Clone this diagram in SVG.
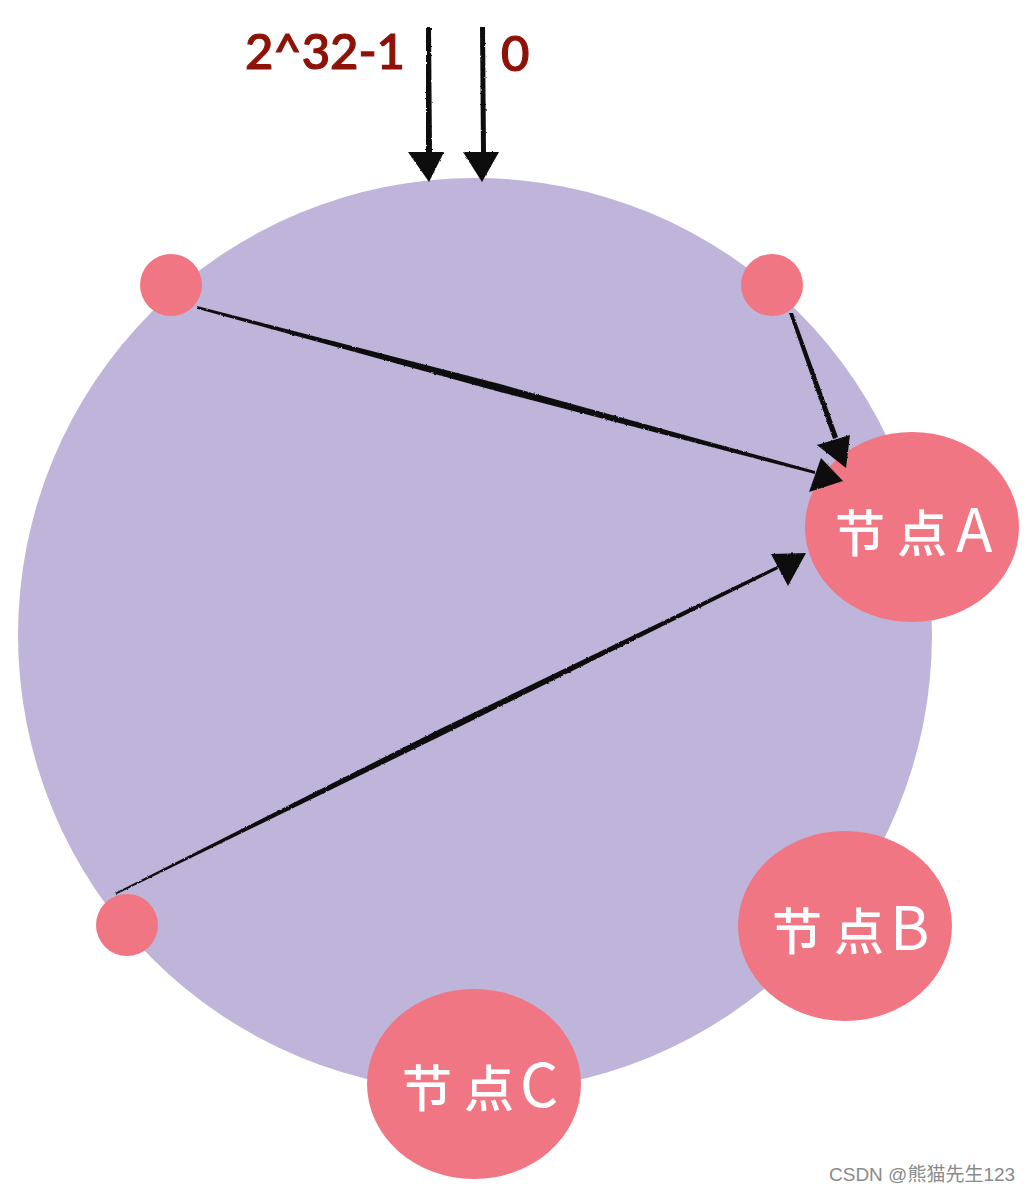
<svg xmlns="http://www.w3.org/2000/svg" width="1032" height="1196" viewBox="0 0 1032 1196">
<defs>
<filter id="rough" x="-5%" y="-5%" width="110%" height="110%" filterUnits="objectBoundingBox">
<feTurbulence type="fractalNoise" baseFrequency="0.35" numOctaves="2" seed="4"/>
<feDisplacementMap in="SourceGraphic" scale="2.200" xChannelSelector="R" yChannelSelector="G"/>
</filter>
</defs>
<style>
.ring{fill:#bfb5da}
.n{fill:#f07684}
.lbl{font-family:"Noto Sans CJK SC","Noto Sans",sans-serif;font-size:50px;font-weight:500;fill:#fff}
.big{font-size:60px;font-weight:400}
.top{font-family:"Lato","Open Sans",sans-serif;font-size:49px;font-weight:500;fill:#8e1208;stroke:#8e1208;stroke-width:1.200px}
.h{fill:#111}
</style>
<rect width="1032" height="1196" fill="#fff"/>
<circle id="ring" class="ring" cx="475" cy="635" r="457"/>
<g id="dot1"><circle class="n" cx="171" cy="285" r="31"/></g>
<g id="dot2"><circle class="n" cx="772" cy="285" r="31"/></g>
<g id="dot3"><circle class="n" cx="127" cy="925" r="31"/></g>
<g id="nodeA"><ellipse class="n" cx="912" cy="527" rx="107" ry="95"/><text class="lbl" y="552"><tspan x="835">节</tspan><tspan x="897">点</tspan><tspan class="big" x="956">A</tspan></text></g>
<g id="nodeB"><ellipse class="n" cx="845" cy="926" rx="107" ry="95"/><text class="lbl" y="950"><tspan x="772">节</tspan><tspan x="834">点</tspan><tspan class="big" x="890">B</tspan></text></g>
<g id="nodeC"><ellipse class="n" cx="474" cy="1084" rx="107" ry="95"/><text class="lbl" y="1107"><tspan x="402">节</tspan><tspan x="464">点</tspan><tspan class="big" x="520">C</tspan></text></g>
<g id="connectors" filter="url(#rough)">
<polygon class="h" points="426,27 431,27 432,152 426,152"/>
<polygon class="h" points="408,152 444,152 429,182"/>
<polygon class="h" points="480,27 485,27 486,152 481,152"/>
<polygon class="h" points="463,152 499,152 482,182"/>
<polygon class="h" points="197,306 500,384 815,471 815,474 500,392 198,309"/>
<polygon class="h" points="821,458 843,481 809,492"/>
<polygon class="h" points="789,313 793,313 838,437 833,439"/>
<polygon class="h" points="817,445 850,435 846,468"/>
<polygon class="h" points="115,893 440,729 777,566 778,569 445,734 117,894"/>
<polygon class="h" points="771,554 806,553 788,586"/>
</g>
<g id="labels">
<text class="top" x="245" y="69" textLength="160" lengthAdjust="spacing">2^32-1</text>
<text class="top" x="501" y="71">0</text>
</g>
<text x="829" y="1181" font-family="'Liberation Sans','Noto Sans CJK SC',sans-serif" font-size="19" fill="#8a8a8a">CSDN @熊猫先生123</text>
</svg>
